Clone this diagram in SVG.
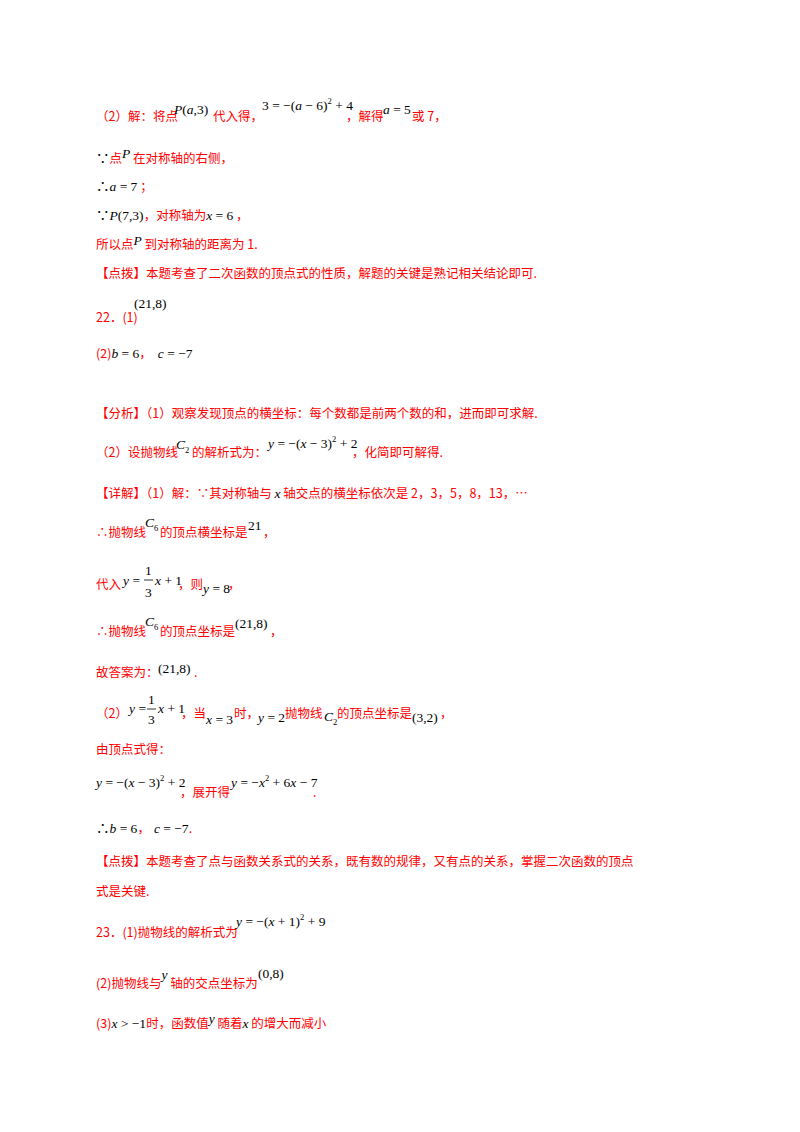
<svg xmlns="http://www.w3.org/2000/svg" width="800" height="1132" viewBox="0 0 800 1132">
<style>
text{font-family:"Noto Sans CJK SC",sans-serif;font-size:12.5px;fill:#f00}
.m{font-family:"Liberation Serif","Noto Sans CJK SC",serif;fill:#000;font-size:13.5px}
.i{font-style:italic}
.s{font-size:8.5px}
.r{font-family:"Noto Sans CJK SC",sans-serif;fill:#f00;font-size:12.5px;font-style:normal}
</style>
<rect width="800" height="1132" fill="#fff"/>
<g id="p2">
<text x="96" y="121">（2）解：将点</text>
<text class="m" x="174" y="114"><tspan class="i">P</tspan>(<tspan class="i">a</tspan>,3)</text>
<text x="213" y="121">代入得，</text>
<text class="m" x="262" y="110">3 = −(<tspan class="i">a</tspan> − 6)<tspan class="s" dy="-6">2</tspan><tspan dy="6"> + 4</tspan></text>
<text x="346" y="121">，解得</text>
<text class="m i" x="383" y="114">a<tspan font-style="normal"> = 5</tspan></text>
<text x="412" y="121">或 7，</text>
<text x="96" y="163"><tspan class="m" fill="#000">∵</tspan>点<tspan class="m i" fill="#000" dy="-5">P</tspan><tspan dy="5"> 在对称轴的右侧，</tspan></text>
<text class="m" x="96" y="191">∴<tspan class="i">a</tspan> = 7<tspan class="r"> ；</tspan></text>
<text class="m" x="96" y="220">∵<tspan class="i">P</tspan>(7,3)<tspan class="r">，对称轴为</tspan><tspan class="i">x</tspan> = 6<tspan class="r"> ，</tspan></text>
<text x="96" y="249">所以点<tspan class="m i" fill="#000" dy="-4">P</tspan><tspan dy="4"> 到对称轴的距离为 1.</tspan></text>
<text x="96" y="278">【点拨】本题考查了二次函数的顶点式的性质，解题的关键是熟记相关结论即可.</text>
</g>
<g id="q22">
<text x="96" y="322">22．(1)</text>
<text class="m" x="134" y="308">(21,8)</text>
<text x="96" y="358">(2)<tspan class="m i" fill="#000">b</tspan><tspan class="m" fill="#000"> = 6</tspan>，<tspan class="m i" fill="#000" dx="6">c</tspan><tspan class="m" fill="#000"> = −7</tspan></text>
<text x="96" y="418">【分析】（1）观察发现顶点的横坐标：每个数都是前两个数的和，进而即可求解.</text>
<text x="96" y="457">（2）设抛物线</text>
<text class="m i" x="176" y="449">C<tspan class="s" font-style="normal" dy="4">2</tspan></text>
<text x="192" y="457">的解析式为：</text>
<text class="m" x="268" y="448"><tspan class="i">y</tspan> = −(<tspan class="i">x</tspan> − 3)<tspan class="s" dy="-6">2</tspan><tspan dy="6"> + 2</tspan></text>
<text x="352" y="457">，化简即可解得.</text>
<text x="96" y="498">【详解】（1）解：∵其对称轴与 <tspan class="m i" fill="#000">x</tspan> 轴交点的横坐标依次是 2，3，5，8，13，…</text>
<text x="96" y="537">∴抛物线</text>
<text class="m i" x="145" y="527">C<tspan class="s" font-style="normal" dy="4">6</tspan></text>
<text x="160" y="537">的顶点横坐标是</text>
<text class="m" x="248" y="530">21</text>
<text x="263" y="537">，</text>
<text x="96" y="589">代入</text>
<text class="m" x="123" y="585"><tspan class="i">y</tspan> =</text>
<text class="m" x="145" y="575">1</text>
<line x1="144" y1="580" x2="153" y2="580" stroke="#000" stroke-width="0.8"/>
<text class="m" x="145" y="597">3</text>
<text class="m" x="155" y="585"><tspan class="i">x</tspan> + 1</text>
<text x="178" y="589">，则</text>
<text class="m" x="203" y="593"><tspan class="i">y</tspan> = 8</text>
<text x="228" y="589">，</text>
<text x="96" y="636">∴抛物线</text>
<text class="m i" x="145" y="626">C<tspan class="s" font-style="normal" dy="4">6</tspan></text>
<text x="160" y="636">的顶点坐标是</text>
<text class="m" x="235" y="628">(21,8)</text>
<text x="270" y="636">，</text>
<text x="96" y="677">故答案为：</text>
<text class="m" x="158" y="673">(21,8)</text>
<text x="194" y="677">.</text>
<text x="96" y="718">（2）</text>
<text class="m" x="129" y="713"><tspan class="i">y</tspan> =</text>
<text class="m" x="148" y="704">1</text>
<line x1="147" y1="709" x2="156" y2="709" stroke="#000" stroke-width="0.8"/>
<text class="m" x="148" y="724">3</text>
<text class="m" x="158" y="713"><tspan class="i">x</tspan> + 1</text>
<text x="181" y="718">，当</text>
<text class="m" x="206" y="724"><tspan class="i">x</tspan> = 3</text>
<text x="234" y="718">时，</text>
<text class="m" x="258" y="722"><tspan class="i">y</tspan> = 2</text>
<text x="285" y="718">抛物线</text>
<text class="m i" x="324" y="721">C<tspan class="s" font-style="normal" dy="4">2</tspan></text>
<text x="337" y="718">的顶点坐标是</text>
<text class="m" x="412" y="722">(3,2)</text>
<text x="440" y="718">，</text>
<text x="96" y="754">由顶点式得：</text>
<text class="m" x="96" y="787"><tspan class="i">y</tspan> = −(<tspan class="i">x</tspan> − 3)<tspan class="s" dy="-6">2</tspan><tspan dy="6"> + 2</tspan></text>
<text x="180" y="797">，展开得</text>
<text class="m" x="231" y="787"><tspan class="i">y</tspan> = −<tspan class="i">x</tspan><tspan class="s" dy="-6">2</tspan><tspan dy="6"> + 6</tspan><tspan class="i">x</tspan> − 7</text>
<text x="313" y="797">.</text>
<text class="m" x="96" y="833">∴<tspan class="i">b</tspan> = 6<tspan class="r">，</tspan><tspan class="i" dx="4">c</tspan> = −7<tspan class="r">.</tspan></text>
<text x="96" y="866">【点拨】本题考查了点与函数关系式的关系，既有数的规律，又有点的关系，掌握二次函数的顶点</text>
<text x="96" y="896">式是关键.</text>
</g>
<g id="q23">
<text x="96" y="937">23．(1)抛物线的解析式为</text>
<text class="m" x="236" y="926"><tspan class="i">y</tspan> = −(<tspan class="i">x</tspan> + 1)<tspan class="s" dy="-6">2</tspan><tspan dy="6"> + 9</tspan></text>
<text x="96" y="988">(2)抛物线与<tspan class="m i" fill="#000" dy="-9">y</tspan><tspan dy="9"> 轴的交点坐标为</tspan></text>
<text class="m" x="258" y="978" font-size="16">(0,8)</text>
<text x="96" y="1028">(3)<tspan class="m" fill="#000"><tspan class="i">x</tspan> &gt; −1</tspan>时，函数值<tspan class="m i" fill="#000" dy="-5">y</tspan><tspan dy="5"> 随着</tspan><tspan class="m i" fill="#000">x</tspan> 的增大而减小</text>
</g>
</svg>
